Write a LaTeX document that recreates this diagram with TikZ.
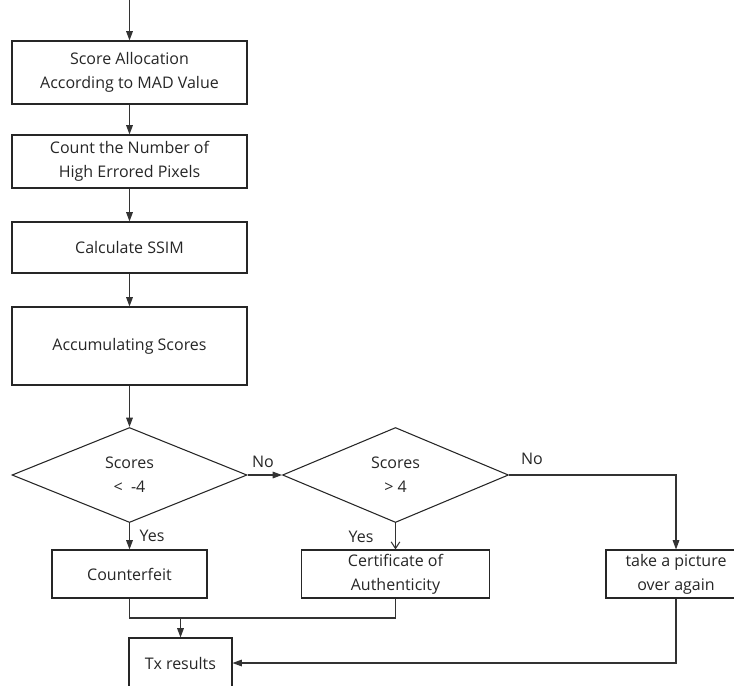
\documentclass[tikz,border=0pt]{standalone}
\usepackage{fontspec}
\setmainfont{Open Sans}
\usetikzlibrary{arrows.meta,positioning,shapes.geometric}

\begin{document}
\begin{tikzpicture}[
  x=0.75pt, y=-0.75pt,
  every node/.style={font=\fontsize{12}{18}\selectfont, align=center, text=black!85},
  box/.style={draw=black!85, rectangle, line width=0.8pt, inner sep=0pt},
  test/.style={draw=black!85, diamond, line width=0.8pt, inner sep=0pt},
  flow/.style={draw=black!80, line width=0.8pt},
  arr/.style={flow, -{Triangle[length=7pt,width=5pt]}},
  openarr/.style={flow, -{Straight Barb[length=5pt,width=6.5pt]}}
]
  \useasboundingbox (0,0) rectangle (734,685);
  \clip (0,0) rectangle (734,685);

  \coordinate (entry) at (129.5,0);
  \node[box, minimum width=176.25pt, minimum height=47.25pt] (alloc) at (129.5,72.5)
    {Score Allocation\\According to MAD Value};
  \node[box, minimum width=176.25pt, minimum height=39.75pt] (count) at (129.5,161.5)
    {Count the Number of\\High Errored Pixels};
  \node[box, minimum width=176.25pt, minimum height=38.25pt] (ssim) at (129.5,247.5)
    {Calculate SSIM};
  \node[box, minimum width=176.25pt, minimum height=58.5pt] (accum) at (129.5,346)
    {Accumulating Scores};

  \node[test, minimum width=176.25pt, minimum height=71.25pt] (lessq) at (129.5,475)
    {Scores\\<\ \ -4};
  \node[test, minimum width=169.5pt, minimum height=71.25pt] (moreq) at (395.5,475)
    {Scores\\> 4};

  \node[box, minimum width=116.25pt, minimum height=36pt] (fake) at (129.5,574)
    {Counterfeit};
  \node[box, minimum width=141pt, minimum height=36pt] (genuine) at (395.5,574)
    {Certificate of\\Authenticity};
  \node[box, minimum width=105pt, minimum height=36pt] (retake) at (676,574)
    {take a picture\\over again};
  \node[box, minimum width=77.25pt, minimum height=37.5pt] (result) at (180.5,663)
    {Tx results};

  \coordinate (join) at (180.5,618);

  % main chain
  \draw[arr] (entry) -- (alloc);
  \draw[arr] (alloc) -- (count);
  \draw[arr] (count) -- (ssim);
  \draw[arr] (ssim) -- (accum);
  \draw[arr] (accum) -- (lessq);

  % decisions
  \draw[arr] (lessq) -- node[above, pos=0.45, yshift=2pt] (noone) {No} (moreq);
  \draw[arr] (moreq.east) -| (retake);
  \node (notwo) at (532,459) {No};
  \draw[arr] (lessq) -- (fake);
  \node (yesone) at (152,536) {Yes};
  \draw[openarr] (moreq) -- (genuine);
  \node (yestwo) at (361,537) {Yes};

  % results
  \draw[flow] (fake.south) |- (join) -| (genuine.south);
  \draw[arr] (join) -- (result);
  \draw[arr] (retake.south) |- (result.east);
\end{tikzpicture}
\end{document}
